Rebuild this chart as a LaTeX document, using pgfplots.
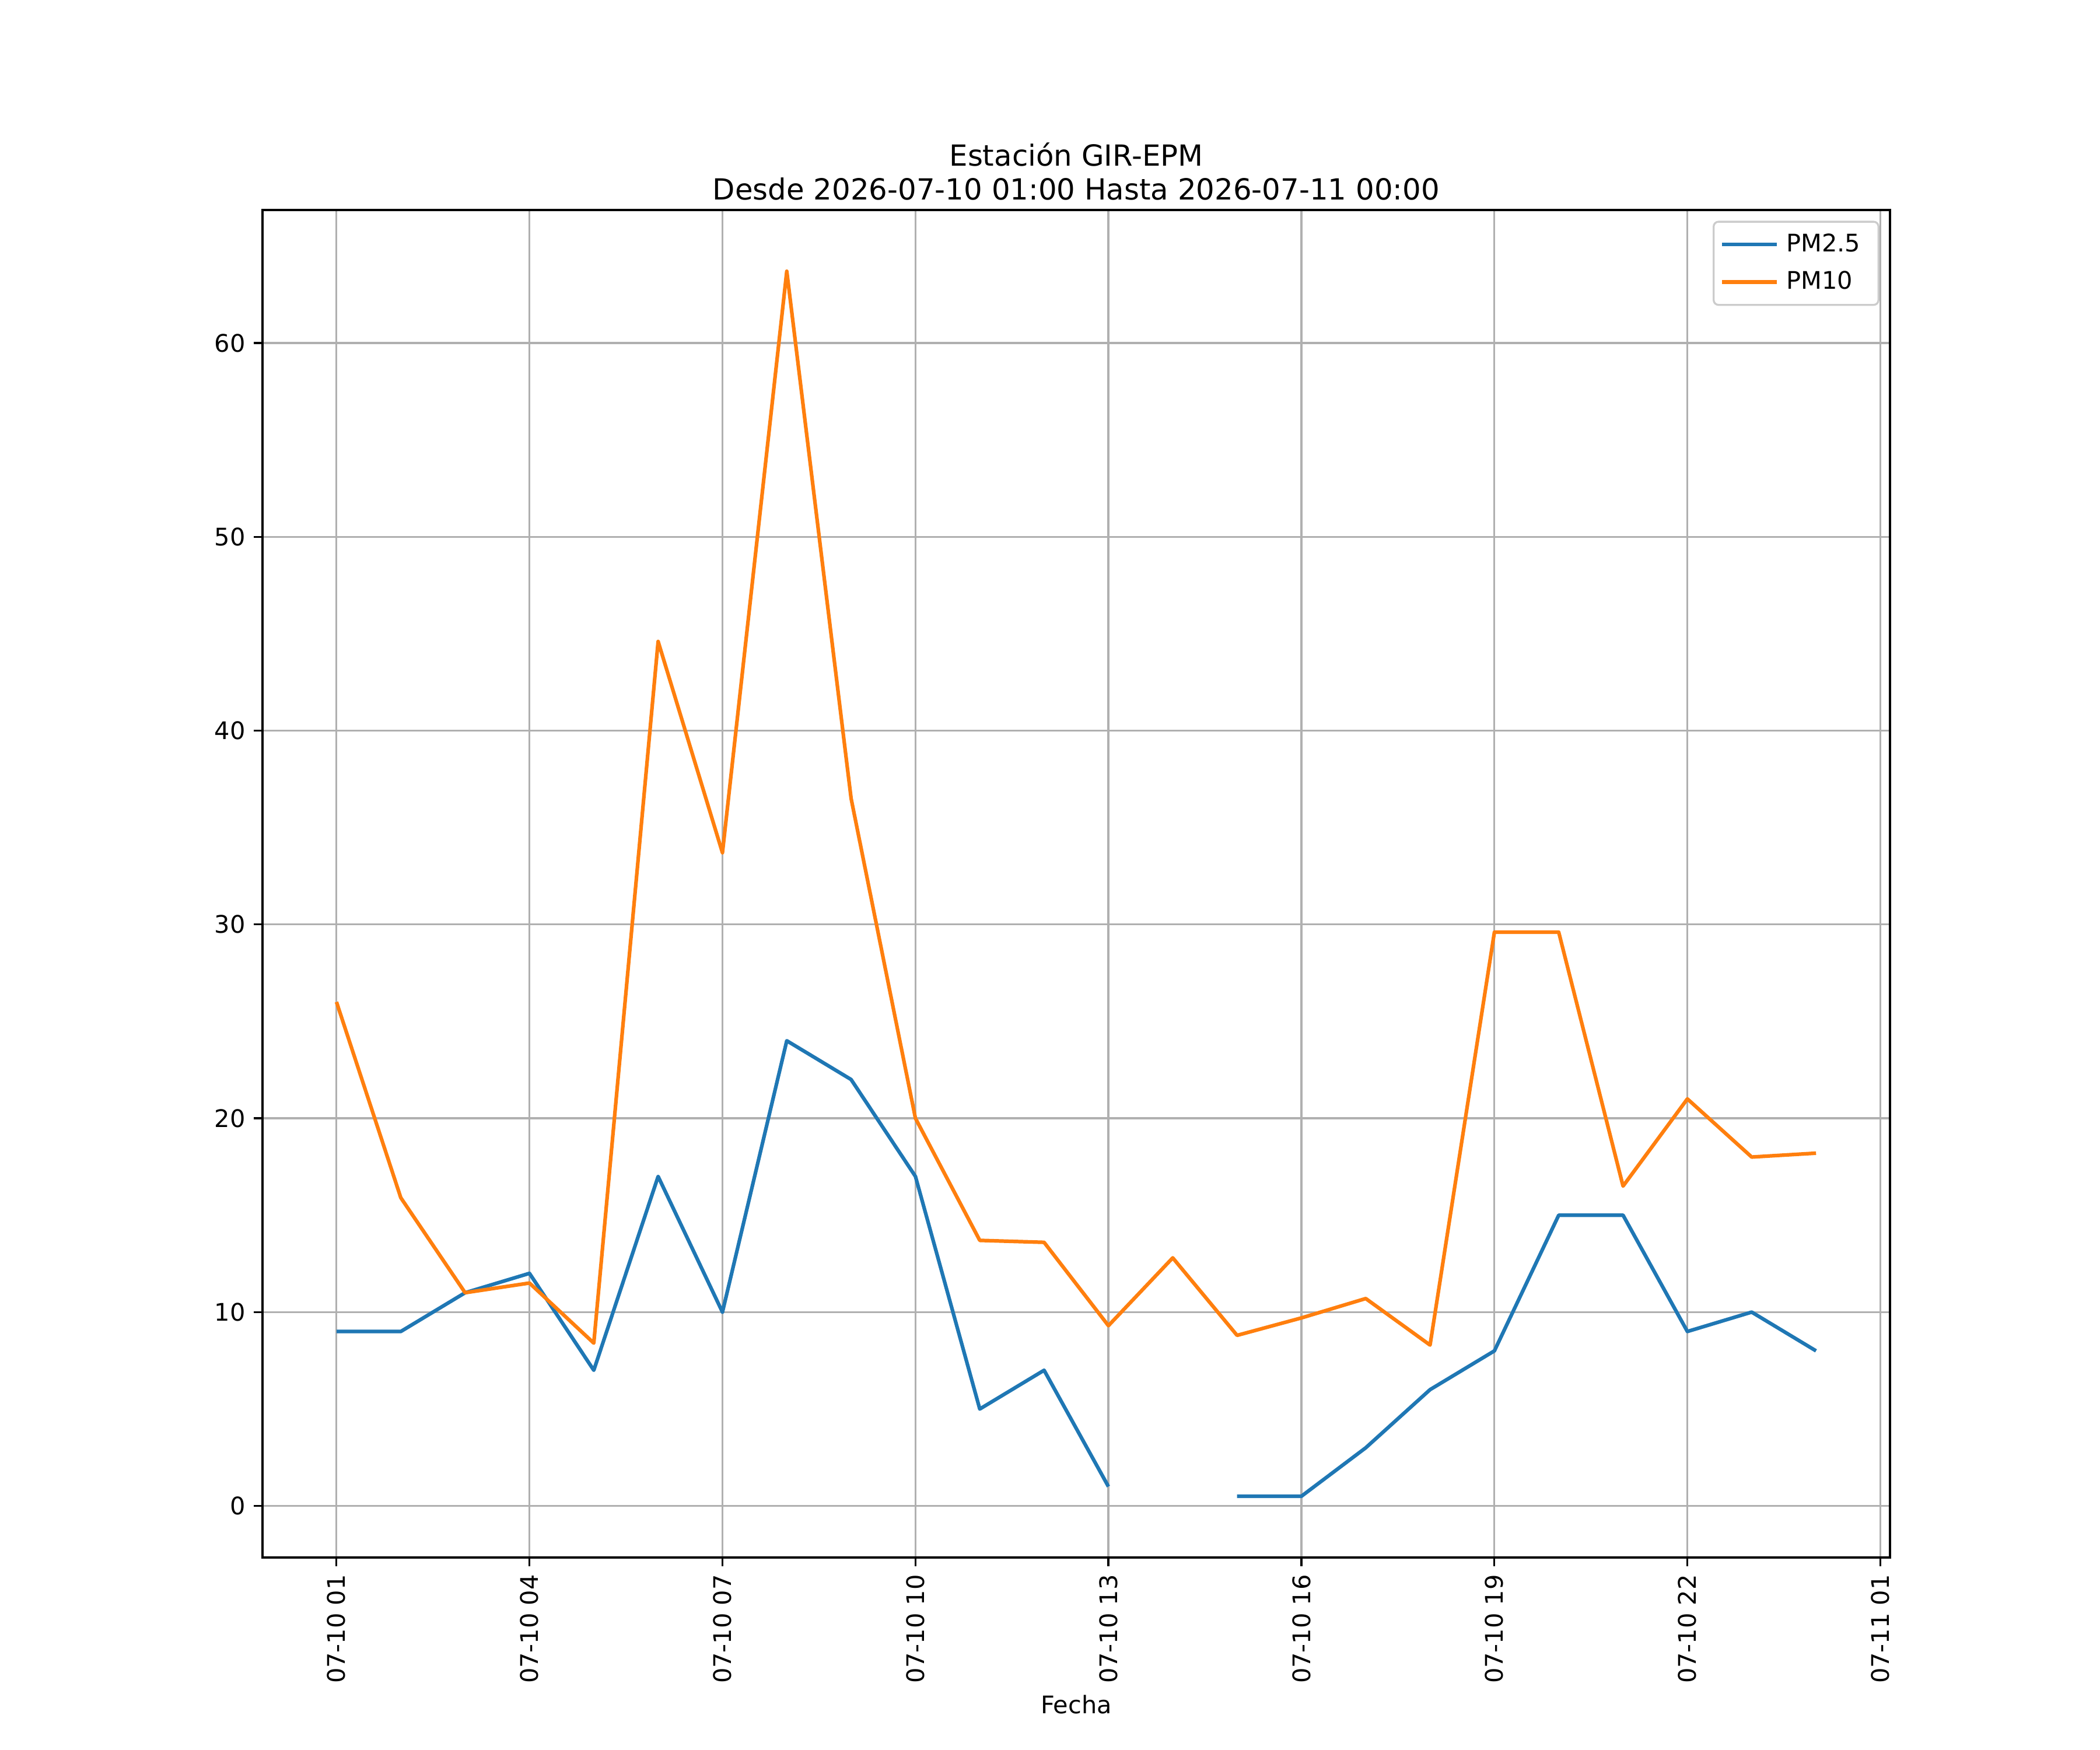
\documentclass[border=0pt]{standalone}
\usepackage{fontspec}
\setmainfont{DejaVu Sans}
\usepackage{pgfplots}
\pgfplotsset{compat=1.18}
\definecolor{mplblue}{HTML}{1F77B4}
\definecolor{mplorange}{HTML}{FF7F0E}
\definecolor{gridgray}{HTML}{B0B0B0}
\begin{document}
\fontsize{10}{12}\selectfont
\begin{tikzpicture}
\path[use as bounding box] (0,0) rectangle (12in,10in);
\begin{axis}[
  at={(1.5in,1.1in)}, anchor=south west,
  scale only axis, width=9.3in, height=7.7in,
  xmin=-0.15, xmax=25.15, ymin=-2.66, ymax=66.86,
  xtick={1,4,7,10,13,16,19,22,25},
  xticklabels={07-10 01,07-10 04,07-10 07,07-10 10,07-10 13,07-10 16,07-10 19,07-10 22,07-11 01},
  x tick label style={rotate=90, anchor=east},
  ytick={0,10,20,30,40,50,60},
  /pgf/number format/assume math mode=true,
  tick label style={font=\fontsize{10}{12}\selectfont},
  tick align=outside, tick pos=left,
  major tick length=3.5pt,
  every tick/.style={black, line width=0.8pt},
  axis line style={line width=0.8pt},
  grid=major,
  major grid style={gridgray, line width=0.8pt},
  title={Estación GIR-EPM\\Desde 2026-07-10 01:00 Hasta 2026-07-11 00:00},
  title style={align=center, font=\fontsize{12}{14}\selectfont, yshift=-5.5pt},
  xlabel={Fecha},
  xlabel style={font=\fontsize{10}{12}\selectfont, yshift=2pt},
  unbounded coords=jump,
  legend style={at={(rel axis cs:0.9935,0.992)}, anchor=north east,
    draw=black!20, line width=0.8pt, rounded corners=2pt, fill=white, fill opacity=0.8, text opacity=1,
    font=\fontsize{10}{12}\selectfont, inner xsep=3.5pt, inner ysep=3pt, row sep=2.5pt,
    nodes={inner xsep=4pt}},
  legend cell align=left,
  legend image code/.code={\draw[#1, line width=1.5pt, line cap=rect] (0pt,0pt) -- (21pt,0pt);},
]
\addplot[mplblue, line width=1.5pt, line join=round] coordinates {
(1,9) (2,9) (3,11) (4,12) (5,7) (6,17) (7,10) (8,24) (9,22) (10,17) (11,5) (12,7) (13,1) (14,nan)
(15,0.5) (16,0.5) (17,3) (18,6) (19,8) (20,15) (21,15) (22,9) (23,10) (24,8)};
\addlegendentry{PM2.5}
\addplot[mplorange, line width=1.5pt, line join=round] coordinates {
(1,26.0) (2,15.9) (3,11.0) (4,11.5) (5,8.4) (6,44.6) (7,33.7) (8,63.7) (9,36.5) (10,20.0) (11,13.7) (12,13.6)
(13,9.3) (14,12.8) (15,8.8) (16,9.7) (17,10.7) (18,8.3) (19,29.6) (20,29.6) (21,16.5) (22,21.0) (23,18.0) (24,18.2)};
\addlegendentry{PM10}
\end{axis}
\end{tikzpicture}
\end{document}
